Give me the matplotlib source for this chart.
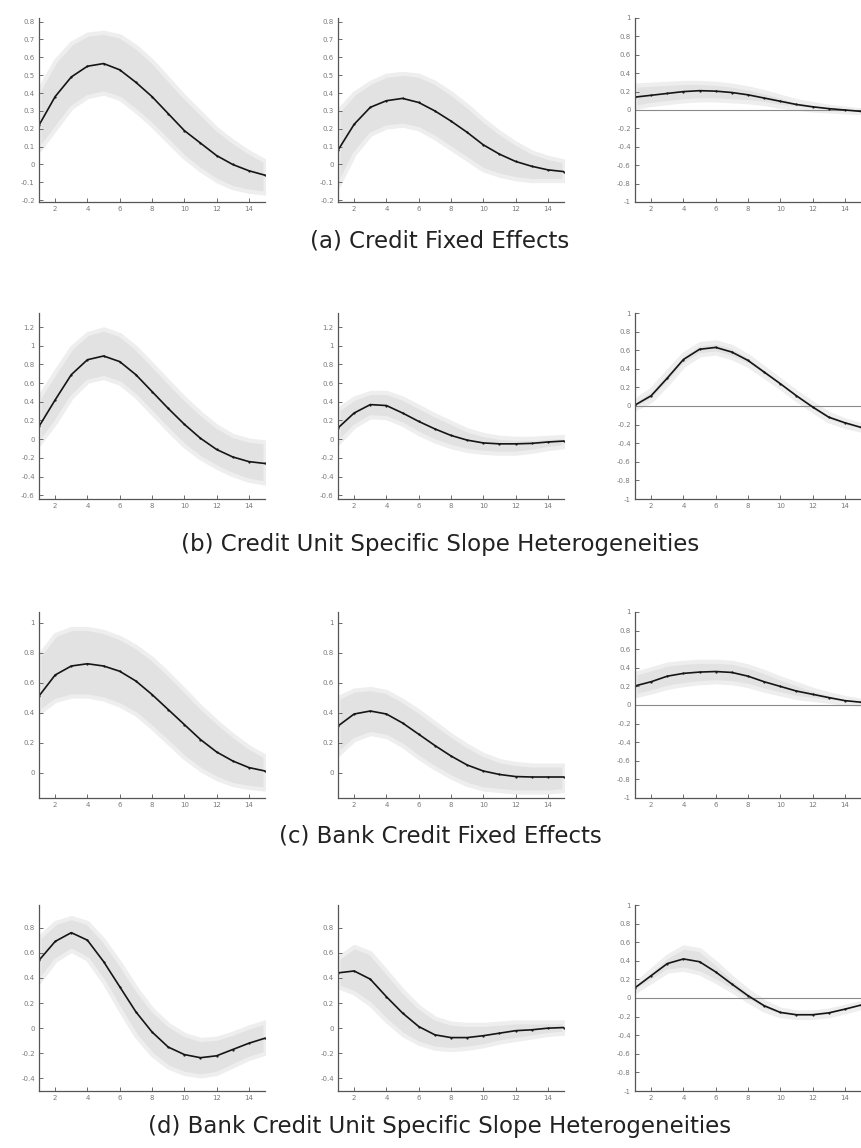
# -*- coding: utf-8 -*-
"""
Impulse responses with confidence bands, 4 rows x 3 columns.
"""
import matplotlib
matplotlib.use("Agg")
import matplotlib.pyplot as plt
from matplotlib.ticker import FormatStrFormatter

plt.rcParams["font.family"] = ["DejaVu Sans"]

HORIZON = list(range(1, 16))

# ── row (a) Credit Fixed Effects ──
a1_mid = [0.22, 0.38, 0.49, 0.55, 0.565, 0.53, 0.46, 0.38, 0.285, 0.19, 0.12, 0.05, 0.0, -0.035, -0.06]
a1_up = [0.42, 0.58, 0.68, 0.73, 0.74, 0.72, 0.66, 0.58, 0.48, 0.38, 0.29, 0.2, 0.13, 0.07, 0.02]
a1_lo = [0.08, 0.2, 0.32, 0.38, 0.40, 0.37, 0.30, 0.22, 0.13, 0.04, -0.03, -0.09, -0.13, -0.15, -0.16]

a2_mid = [0.08, 0.225, 0.32, 0.357, 0.37, 0.347, 0.3, 0.243, 0.18, 0.11, 0.058, 0.017, -0.01, -0.03, -0.04]
a2_up = [0.30, 0.40, 0.46, 0.50, 0.51, 0.50, 0.46, 0.40, 0.33, 0.25, 0.18, 0.12, 0.07, 0.04, 0.02]
a2_lo = [-0.12, 0.06, 0.17, 0.21, 0.22, 0.20, 0.15, 0.09, 0.03, -0.03, -0.06, -0.08, -0.09, -0.09, -0.09]

a3_mid = [0.14, 0.16, 0.18, 0.2, 0.21, 0.205, 0.19, 0.165, 0.13, 0.095, 0.06, 0.035, 0.015, 0.0, -0.015]
a3_up = [0.27, 0.28, 0.29, 0.30, 0.30, 0.29, 0.27, 0.24, 0.2, 0.15, 0.1, 0.07, 0.04, 0.02, 0.0]
a3_lo = [0.03, 0.06, 0.08, 0.10, 0.11, 0.11, 0.10, 0.09, 0.07, 0.04, 0.02, 0.0, -0.01, -0.02, -0.03]

# ── row (b) Credit Unit Specific Slope Heterogeneities ──
b1_mid = [0.136, 0.42, 0.69, 0.85, 0.89, 0.83, 0.69, 0.51, 0.33, 0.16, 0.01, -0.11, -0.19, -0.24, -0.26]
b1_up = [0.45, 0.72, 0.98, 1.13, 1.18, 1.12, 0.98, 0.8, 0.62, 0.44, 0.28, 0.14, 0.04, -0.01, -0.03]
b1_lo = [-0.05, 0.18, 0.45, 0.62, 0.66, 0.6, 0.46, 0.28, 0.1, -0.07, -0.2, -0.3, -0.38, -0.44, -0.47]

b2_mid = [0.12, 0.28, 0.37, 0.36, 0.28, 0.19, 0.11, 0.04, -0.01, -0.04, -0.05, -0.05, -0.045, -0.03, -0.02]
b2_up = [0.32, 0.44, 0.5, 0.5, 0.44, 0.35, 0.26, 0.18, 0.1, 0.05, 0.02, 0.01, 0.01, 0.02, 0.03]
b2_lo = [-0.04, 0.14, 0.24, 0.23, 0.16, 0.06, -0.02, -0.08, -0.12, -0.14, -0.15, -0.15, -0.13, -0.1, -0.08]

b3_mid = [0.01, 0.11, 0.3, 0.5, 0.61, 0.63, 0.58, 0.49, 0.365, 0.24, 0.11, -0.01, -0.12, -0.18, -0.23]
b3_up = [0.06, 0.18, 0.37, 0.56, 0.67, 0.69, 0.64, 0.54, 0.41, 0.28, 0.15, 0.03, -0.08, -0.15, -0.2]
b3_lo = [-0.03, 0.06, 0.24, 0.44, 0.55, 0.57, 0.52, 0.44, 0.32, 0.2, 0.07, -0.05, -0.16, -0.22, -0.26]

# ── row (c) Bank Credit Fixed Effects ──
c1_mid = [0.51, 0.65, 0.71, 0.725, 0.71, 0.675, 0.61, 0.52, 0.42, 0.32, 0.22, 0.137, 0.077, 0.033, 0.01]
c1_up = [0.78, 0.92, 0.96, 0.96, 0.94, 0.9, 0.84, 0.76, 0.66, 0.55, 0.44, 0.34, 0.25, 0.17, 0.11]
c1_lo = [0.4, 0.48, 0.51, 0.51, 0.49, 0.45, 0.39, 0.3, 0.2, 0.1, 0.02, -0.04, -0.08, -0.1, -0.11]

c2_mid = [0.31, 0.39, 0.41, 0.39, 0.33, 0.255, 0.18, 0.11, 0.05, 0.01, -0.013, -0.027, -0.03, -0.03, -0.03]
c2_up = [0.5, 0.55, 0.56, 0.54, 0.48, 0.41, 0.33, 0.25, 0.18, 0.12, 0.08, 0.06, 0.05, 0.05, 0.05]
c2_lo = [0.12, 0.22, 0.26, 0.24, 0.18, 0.1, 0.03, -0.03, -0.08, -0.11, -0.12, -0.13, -0.13, -0.13, -0.12]

c3_mid = [0.205, 0.25, 0.31, 0.34, 0.354, 0.36, 0.35, 0.31, 0.25, 0.2, 0.15, 0.115, 0.08, 0.047, 0.03]
c3_up = [0.34, 0.39, 0.44, 0.46, 0.47, 0.47, 0.46, 0.42, 0.36, 0.29, 0.23, 0.17, 0.12, 0.08, 0.05]
c3_lo = [0.1, 0.14, 0.19, 0.22, 0.24, 0.25, 0.24, 0.21, 0.16, 0.12, 0.08, 0.06, 0.04, 0.02, 0.01]

# ── row (d) Bank Credit Unit Specific Slope Heterogeneities ──
d1_mid = [0.54, 0.69, 0.76, 0.70, 0.53, 0.33, 0.13, -0.03, -0.15, -0.21, -0.235, -0.22, -0.17, -0.12, -0.08]
d1_up = [0.72, 0.84, 0.88, 0.84, 0.7, 0.52, 0.32, 0.15, 0.03, -0.05, -0.09, -0.08, -0.04, 0.01, 0.05]
d1_lo = [0.37, 0.54, 0.62, 0.55, 0.37, 0.15, -0.06, -0.21, -0.31, -0.36, -0.38, -0.36, -0.3, -0.24, -0.2]

d2_mid = [0.44, 0.455, 0.39, 0.25, 0.12, 0.013, -0.053, -0.075, -0.075, -0.06, -0.04, -0.02, -0.013, 0.0, 0.005]
d2_up = [0.56, 0.65, 0.6, 0.45, 0.3, 0.17, 0.08, 0.04, 0.03, 0.03, 0.04, 0.05, 0.05, 0.05, 0.05]
d2_lo = [0.33, 0.28, 0.19, 0.06, -0.05, -0.12, -0.16, -0.17, -0.16, -0.14, -0.11, -0.09, -0.07, -0.05, -0.04]

d3_mid = [0.11, 0.24, 0.37, 0.42, 0.39, 0.28, 0.15, 0.025, -0.083, -0.155, -0.18, -0.18, -0.16, -0.12, -0.076]
d3_up = [0.15, 0.3, 0.45, 0.55, 0.52, 0.38, 0.22, 0.08, -0.04, -0.12, -0.15, -0.15, -0.13, -0.09, -0.05]
d3_lo = [0.07, 0.18, 0.29, 0.31, 0.27, 0.18, 0.08, -0.03, -0.13, -0.19, -0.21, -0.21, -0.19, -0.15, -0.1]

CAPTIONS = [
    "(a) Credit Fixed Effects",
    "(b) Credit Unit Specific Slope Heterogeneities",
    "(c) Bank Credit Fixed Effects",
    "(d) Bank Credit Unit Specific Slope Heterogeneities",
]

# ── layout (pixels on a 861x1148 canvas) ──
W, H = 861, 1148
COL_LEFT = [39, 338, 635]
COL_WIDTH = 226
ROW_BOX = [(18, 202), (313, 499), (612, 798), (905, 1091)]
CAPTION_Y = [241, 544, 836, 1126]
CAPTION_X = 440

# y-limits and y-ticks per row for columns 1-2; column 3 is always -1..1
ROW_YLIM = [(-0.21, 0.82), (-0.64, 1.35), (-0.17, 1.07), (-0.5, 0.98)]
ROW_YTICKS = [
    [-0.2, -0.1, 0, 0.1, 0.2, 0.3, 0.4, 0.5, 0.6, 0.7, 0.8],
    [-0.6, -0.4, -0.2, 0, 0.2, 0.4, 0.6, 0.8, 1, 1.2],
    [0, 0.2, 0.4, 0.6, 0.8, 1],
    [-0.4, -0.2, 0, 0.2, 0.4, 0.6, 0.8],
]
COL3_YTICKS = [-1, -0.8, -0.6, -0.4, -0.2, 0, 0.2, 0.4, 0.6, 0.8, 1]

PANELS = [
    [(a1_mid, a1_up, a1_lo), (a2_mid, a2_up, a2_lo), (a3_mid, a3_up, a3_lo)],
    [(b1_mid, b1_up, b1_lo), (b2_mid, b2_up, b2_lo), (b3_mid, b3_up, b3_lo)],
    [(c1_mid, c1_up, c1_lo), (c2_mid, c2_up, c2_lo), (c3_mid, c3_up, c3_lo)],
    [(d1_mid, d1_up, d1_lo), (d2_mid, d2_up, d2_lo), (d3_mid, d3_up, d3_lo)],
]

BAND_COLOR = "#e2e2e2"
AXIS_COLOR = "#555555"
TICK_COLOR = "#7a7a7a"


def draw_panel(ax, mid, up, lo, ylim, yticks, zero_line):
    # soft edge: a faint wider band under the main one
    ax.fill_between(HORIZON, lo, up, color=BAND_COLOR, linewidth=3,
                    edgecolor="#eeeeee")
    if zero_line:
        ax.axhline(0, color="#8a8a8a", linewidth=0.8)
    ax.plot(HORIZON, mid, color="#151515", linewidth=1.2,
            marker=".", markersize=1.2)

    ax.set_xlim(1, 15)
    ax.set_ylim(*ylim)
    ax.set_xticks([2, 4, 6, 8, 10, 12, 14])
    ax.set_yticks(yticks)
    ax.yaxis.set_major_formatter(FormatStrFormatter("%g"))

    for side in ("top", "right"):
        ax.spines[side].set_visible(False)
    for side in ("left", "bottom"):
        ax.spines[side].set_color(AXIS_COLOR)
        ax.spines[side].set_linewidth(0.9)
    ax.tick_params(direction="in", length=3, width=0.6, colors=AXIS_COLOR,
                   labelsize=5, labelcolor=TICK_COLOR, pad=3)


fig = plt.figure(figsize=(W / 100, H / 100), dpi=100)

for r, (top, bottom) in enumerate(ROW_BOX):
    for c in range(3):
        rect = [COL_LEFT[c] / W, 1 - bottom / H, COL_WIDTH / W, (bottom - top) / H]
        ax = fig.add_axes(rect)
        mid, up, lo = PANELS[r][c]
        if c == 2:
            draw_panel(ax, mid, up, lo, (-1.0, 1.0), COL3_YTICKS, True)
        else:
            draw_panel(ax, mid, up, lo, ROW_YLIM[r], ROW_YTICKS[r], False)
    fig.text(CAPTION_X / W, 1 - CAPTION_Y[r] / H, CAPTIONS[r], ha="center",
             va="center", fontsize=16.5, color="#222222")

fig.savefig("out.png", dpi=100)
plt.close(fig)
